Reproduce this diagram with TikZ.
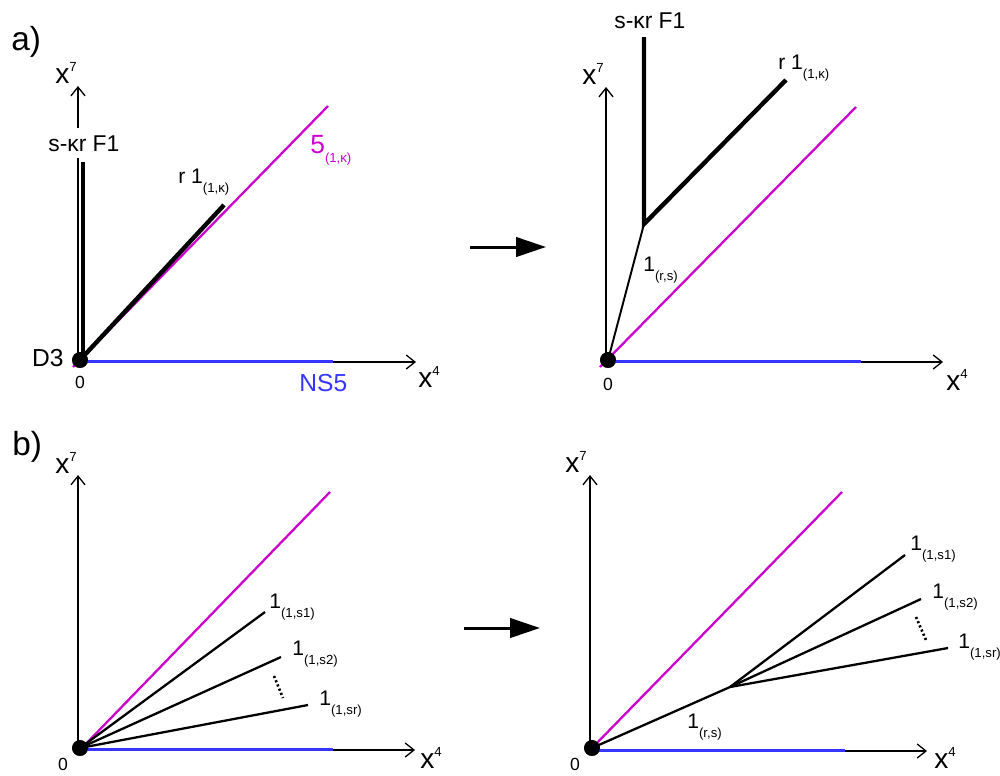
\documentclass[tikz,border=0pt]{standalone}
\usepackage{fontspec}
\setmainfont{Liberation Sans}
\usetikzlibrary{arrows.meta, positioning}
\definecolor{fivebrane}{HTML}{CC00CC}
\definecolor{nsfive}{HTML}{3535FF}
\newcommand{\fsz}[1]{\fontsize{#1}{#1}\selectfont}
\newcommand{\axlab}[1]{x\raisebox{6.5pt}{\fsz{7.5}#1}}
\newcommand{\brsub}[1]{\raisebox{-5.5pt}{\fsz{7.5}(#1)}}
\tikzset{
  axis/.style={-{Straight Barb[length=5pt,width=8pt]}, line width=0.75pt},
  ns/.style={nsfive, line width=1.8pt},
  pq/.style={fivebrane, line width=1.3pt},
  fone/.style={line width=2.5pt},
  web/.style={line width=1.3pt},
  thinweb/.style={line width=1.1pt},
  flow/.style={-{Triangle[length=17pt,width=11pt]}, line width=1.7pt},
  dotseg/.style={line width=1.5pt, dash pattern=on 1.2pt off 1.4pt},
  dot/.style={circle, fill, inner sep=0pt, minimum size=9pt},
  lbl/.style={anchor=base west, inner sep=0pt, font=\fsz{12}},
  axtxt/.style={anchor=base west, inner sep=0pt, font=\fsz{16}},
  zero/.style={anchor=base, inner sep=0pt, font=\fsz{10}},
  tag/.style={anchor=base west, inner sep=0pt, font=\fsz{19}},
}

\begin{document}
\begin{tikzpicture}[x=0.02cm, y=-0.02cm]
  \useasboundingbox (0,0) rectangle (1000,775);

  % a) left
  \node[tag] (atag) at (11,50) {a)};
  \coordinate (aLo) at (78,362);
  \coordinate (aLx) at (416,362);
  \coordinate (aLy) at (78,86);
  \coordinate (aLns) at (333,361.5);
  \coordinate (aLpq) at (73,367);
  \coordinate (aLpqe) at (328,106);
  \coordinate (aLf) at (83,162);
  \coordinate (aLfo) at (83,358);
  \coordinate (aLr) at (224,205);
  \node[dot] (aLd) at (80,360) {};
  \draw[axis] (aLo) -- (aLx);
  \draw[axis] (aLo) -- (aLy);
  \draw[ns] (aLd.center |- aLns) -- (aLns);
  \draw[pq] (aLpq) -- (aLpqe);
  \draw[fone] (aLfo) -- (aLf);
  \draw[fone] (aLd.center) -- (aLr);
  \node[dot] at (aLd) {};
  \node[axtxt] (aLx7) at (55,83) {\axlab{7}};
  \node[anchor=base west, fill=white, inner xsep=0pt, inner ysep=4pt, font=\fsz{13}] (aLfl) at (48,151) {s-κr F1};
  \node[lbl] (aLrl) at (178,183) {r 1\brsub{1,κ}};
  \node[anchor=base west, inner sep=0pt, font=\fsz{15}, text=fivebrane] (aLpql) at (310,153) {5\brsub{1,κ}};
  \node[anchor=base east, inner sep=0pt, font=\fsz{14}] (aLd3) at (64,366) {D3};
  \node[zero] (aL0) at (80,388) {0};
  \node[anchor=base west, inner sep=0pt, font=\fsz{14}, text=nsfive] (aLns5) at (299,391) {NS5};
  \node[axtxt] (aLx4) at (418,387) {\axlab{4}};

  \coordinate (aA) at (470,247);
  \coordinate (aB) at (546,247);
  \draw[flow] (aA) -- (aB);

  % a) right
  \coordinate (aRo) at (606,362);
  \coordinate (aRx) at (943,362);
  \coordinate (aRy) at (606,87);
  \coordinate (aRns) at (861,361.5);
  \coordinate (aRpq) at (600,367);
  \coordinate (aRpqe) at (856,107);
  \coordinate (aRj) at (644,224);
  \coordinate (aRf) at (644,37);
  \coordinate (aRr) at (786,80);
  \node[dot] (aRd) at (608,360) {};
  \draw[axis] (aRo) -- (aRx);
  \draw[axis] (aRo) -- (aRy);
  \draw[ns] (aRd.center |- aRns) -- (aRns);
  \draw[pq] (aRpq) -- (aRpqe);
  \draw[thinweb] (aRd.center) -- (aRj);
  \draw[fone] (aRf) -- (aRj) -- (aRr);
  \node[dot] at (aRd) {};
  \node[axtxt] (aRx7) at (582,84) {\axlab{7}};
  \node[anchor=base west, inner sep=0pt, font=\fsz{13}] (aRfl) at (614,28) {s-κr F1};
  \node[lbl] (aRrl) at (778,69) {r 1\brsub{1,κ}};
  \node[lbl] (aRrs) at (643,271) {1\brsub{r,s}};
  \node[zero] (aR0) at (608,390) {0};
  \node[axtxt] (aRx4) at (946,390) {\axlab{4}};

  % b) left
  \node[tag] (btag) at (12,455) {b)};
  \coordinate (bLo) at (78,750);
  \coordinate (bLx) at (415,750);
  \coordinate (bLy) at (78,475);
  \coordinate (bLns) at (333,749.5);
  \coordinate (bLpq) at (78,752);
  \coordinate (bLpqe) at (330,492);
  \coordinate (bLa) at (265,612);
  \coordinate (bLb) at (281,657);
  \coordinate (bLc) at (308,705);
  \coordinate (bLdt) at (274,676);
  \coordinate (bLdb) at (283,698);
  \node[dot] (bLd) at (80,748) {};
  \draw[axis] (bLo) -- (bLx);
  \draw[axis] (bLo) -- (bLy);
  \draw[ns] (bLd.center |- bLns) -- (bLns);
  \draw[pq] (bLpq) -- (bLpqe);
  \draw[web] (bLd.center) -- (bLa);
  \draw[web] (bLd.center) -- (bLb);
  \draw[web] (bLd.center) -- (bLc);
  \draw[dotseg] (bLdt) -- (bLdb);
  \node[dot] at (bLd) {};
  \node[axtxt] (bLx7) at (55,473) {\axlab{7}};
  \node[lbl] (bLal) at (269,608) {1\brsub{1,s1}};
  \node[lbl] (bLbl) at (292,655) {1\brsub{1,s2}};
  \node[lbl] (bLcl) at (319,705) {1\brsub{1,sr}};
  \node[zero] (bL0) at (63,770) {0};
  \node[axtxt] (bLx4) at (420,768) {\axlab{4}};

  \coordinate (bA) at (464,628);
  \coordinate (bB) at (540,628);
  \draw[flow] (bA) -- (bB);

  % b) right
  \coordinate (bRo) at (590,751);
  \coordinate (bRx) at (927,751);
  \coordinate (bRy) at (590,475);
  \coordinate (bRns) at (845,750.5);
  \coordinate (bRpqe) at (842,492);
  \coordinate (bRj) at (730,687);
  \coordinate (bRa) at (905,555);
  \coordinate (bRb) at (921,599);
  \coordinate (bRc) at (948,648);
  \coordinate (bRdt) at (916,617);
  \coordinate (bRdb) at (926,640);
  \node[dot] (bRd) at (592,748) {};
  \draw[axis] (bRo) -- (bRx);
  \draw[axis] (bRo) -- (bRy);
  \draw[ns] (bRd.center |- bRns) -- (bRns);
  \draw[pq] (bRd.center) -- (bRpqe);
  \draw[web] (bRd.center) -- (bRj);
  \draw[web] (bRj) -- (bRa);
  \draw[web] (bRj) -- (bRb);
  \draw[web] (bRj) -- (bRc);
  \draw[dotseg] (bRdt) -- (bRdb);
  \node[dot] at (bRd) {};
  \node[axtxt] (bRx7) at (565,472) {\axlab{7}};
  \node[lbl] (bRal) at (910,550) {1\brsub{1,s1}};
  \node[lbl] (bRbl) at (932,598) {1\brsub{1,s2}};
  \node[lbl] (bRcl) at (958,648) {1\brsub{1,sr}};
  \node[lbl] (bRrs) at (687,728) {1\brsub{r,s}};
  \node[zero] (bR0) at (575,770) {0};
  \node[axtxt] (bRx4) at (934,768) {\axlab{4}};
\end{tikzpicture}
\end{document}
